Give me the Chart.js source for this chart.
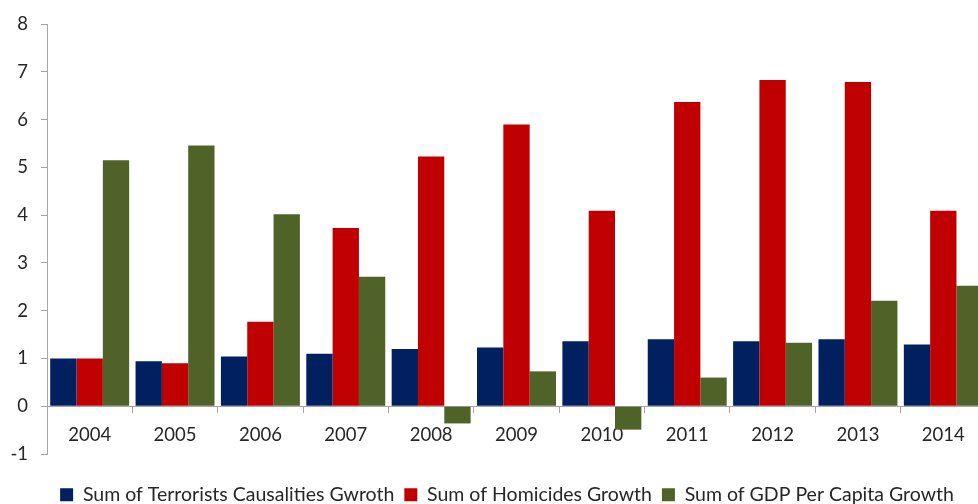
<!DOCTYPE html>
<html>
<head>
<meta charset="utf-8">
<script src="https://cdn.jsdelivr.net/npm/chart.js@4"></script>
<style>
  html, body { margin: 0; padding: 0; background: #fff; overflow: hidden; }
  #wrap { width: 1014px; height: 504px; }
</style>
</head>
<body>
<div id="wrap"><canvas id="chart" width="1014" height="504"></canvas></div>
<script>
// Year categories along the x axis
const years = ['2004', '2005', '2006', '2007', '2008', '2009', '2010', '2011', '2012', '2013', '2014'];

// Growth series, one value per year
const terroristCasualties = [1.00, 0.94, 1.04, 1.10, 1.20, 1.23, 1.36, 1.40, 1.36, 1.40, 1.29];
const homicides = [1.00, 0.90, 1.77, 3.73, 5.23, 5.90, 4.09, 6.37, 6.83, 6.79, 4.09];
const gdpPerCapita = [5.15, 5.46, 4.02, 2.71, -0.36, 0.73, -0.49, 0.60, 1.33, 2.21, 2.52];

// Series names shown in the legend
const seriesNames = [
  'Sum of Terrorists Causalities Gwroth',
  'Sum of Homicides Growth',
  'Sum of GDP Per Capita Growth'
];

// Value axis range
const yMin = -1;
const yMax = 8;
const yStep = 1;

const textColor = '#262626';
const axisColor = '#a6a6a6';
const fontFamily = 'Lato, "Open Sans", sans-serif';

// Nudges the legend block so it sits centred under the plot, close to the bottom edge
const legendOffset = {
  id: 'legendOffset',
  afterLayout(chart) {
    const lg = chart.legend;
    if (!lg) return;
    lg.left += 14; lg.right += 14;
    lg.top += 21; lg.bottom += 21;
  }
};

new Chart(document.getElementById('chart'), {
  type: 'bar',
  data: {
    labels: years,
    datasets: [
      { label: seriesNames[0], data: terroristCasualties, backgroundColor: '#002060' },
      { label: seriesNames[1], data: homicides, backgroundColor: '#c00000' },
      { label: seriesNames[2], data: gdpPerCapita, backgroundColor: '#4f6228' }
    ]
  },
  plugins: [legendOffset],
  options: {
    responsive: false,
    animation: false,
    devicePixelRatio: 1,
    layout: { padding: { left: 0, right: 28, top: 23, bottom: 10.5 } },
    datasets: {
      bar: { categoryPercentage: 0.925, barPercentage: 1.0, borderWidth: 0 }
    },
    scales: {
      x: {
        type: 'category',
        position: { y: 0 },
        grid: {
          offset: true,
          drawOnChartArea: false,
          drawTicks: true,
          tickLength: 6,
          color: axisColor
        },
        border: { display: true, color: axisColor, width: 1 },
        ticks: {
          color: textColor,
          padding: 12,
          maxRotation: 0,
          font: { family: fontFamily, size: 18.5 }
        }
      },
      y: {
        min: yMin,
        max: yMax,
        afterFit: (scale) => { scale.width = 47; },
        grid: {
          drawOnChartArea: false,
          drawTicks: true,
          tickLength: 6,
          color: axisColor
        },
        border: { display: true, color: axisColor, width: 1 },
        ticks: {
          stepSize: yStep,
          color: textColor,
          padding: 13,
          font: { family: fontFamily, size: 18.5 }
        }
      }
    },
    plugins: {
      tooltip: { enabled: false },
      legend: {
        position: 'bottom',
        labels: {
          color: textColor,
          boxWidth: 13,
          boxHeight: 13,
          padding: 10,
          font: { family: fontFamily, size: 19.5 }
        }
      }
    }
  }
});
</script>
</body>
</html>
